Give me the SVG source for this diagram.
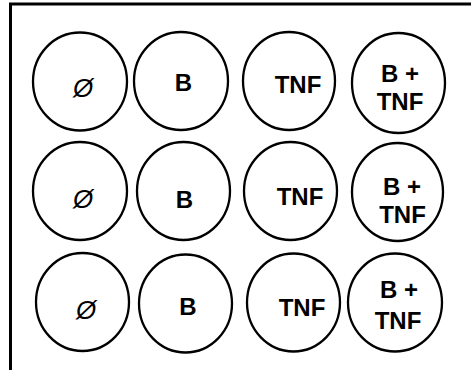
<svg xmlns="http://www.w3.org/2000/svg" width="471" height="370" viewBox="0 0 471 370">
<style>
.well{fill:#fff;stroke:#000;stroke-width:2.3}
.t{font-family:"Liberation Sans",Arial,sans-serif;font-weight:bold;font-size:24px;text-anchor:middle;fill:#000}
.z{font-family:"Liberation Sans",Arial,sans-serif;font-style:italic;font-size:26px;text-anchor:middle;fill:#000}
.frame{stroke:#000;stroke-width:3;fill:none}
</style>
<rect width="471" height="370" fill="#fff"/>
<g id="frame"><path class="frame" d="M10.5,370 V4 H471"/></g>
<g id="r1c1"><ellipse class="well" cx="80" cy="81.5" rx="47" ry="49"/><text class="z" x="83" y="97">Ø</text></g>
<g id="r1c2"><ellipse class="well" cx="181" cy="81" rx="47" ry="49"/><text class="t" x="183.5" y="91">B</text></g>
<g id="r1c3"><ellipse class="well" cx="289" cy="81" rx="46" ry="49"/><text class="t" x="298" y="93">TNF</text></g>
<g id="r1c4"><ellipse class="well" cx="398.5" cy="83" rx="46.5" ry="50"/><text class="t" x="400" y="82">B +</text><text class="t" x="400" y="110">TNF</text></g>
<g id="r2c1"><ellipse class="well" cx="80" cy="191" rx="47" ry="49"/><text class="z" x="83" y="208">Ø</text></g>
<g id="r2c2"><ellipse class="well" cx="183.5" cy="191" rx="46.5" ry="49"/><text class="t" x="184.5" y="208">B</text></g>
<g id="r2c3"><ellipse class="well" cx="290.5" cy="191" rx="46.5" ry="49"/><text class="t" x="300" y="205">TNF</text></g>
<g id="r2c4"><ellipse class="well" cx="397.5" cy="192" rx="45.5" ry="49"/><text class="t" x="402" y="195">B +</text><text class="t" x="402.5" y="223">TNF</text></g>
<g id="r3c1"><ellipse class="well" cx="82.5" cy="302" rx="46.5" ry="49"/><text class="z" x="86" y="319">Ø</text></g>
<g id="r3c2"><ellipse class="well" cx="185.5" cy="303.5" rx="46.5" ry="49"/><text class="t" x="188" y="315">B</text></g>
<g id="r3c3"><ellipse class="well" cx="293.5" cy="302.5" rx="46.5" ry="49"/><text class="t" x="302" y="316">TNF</text></g>
<g id="r3c4"><ellipse class="well" cx="395" cy="302.5" rx="47" ry="49"/><text class="t" x="399" y="298">B +</text><text class="t" x="398" y="329">TNF</text></g>
<g id="connectors"/>
</svg>
